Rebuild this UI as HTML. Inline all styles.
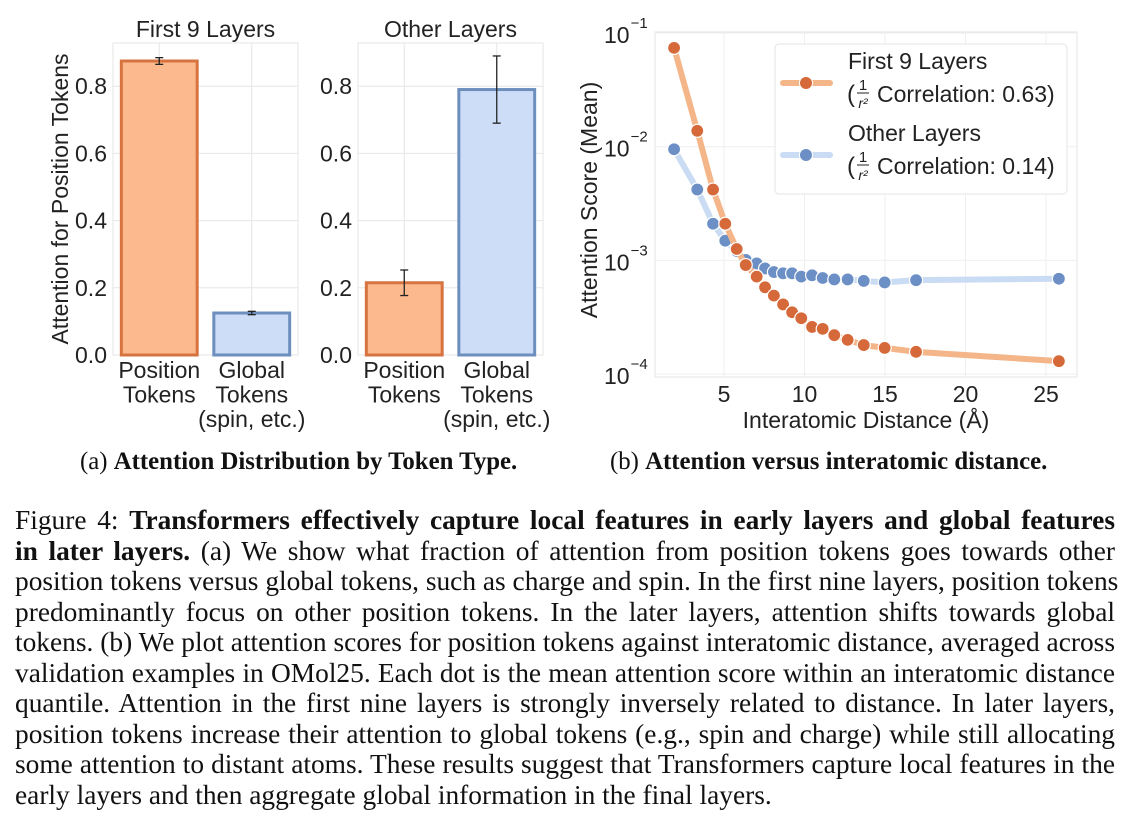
<!DOCTYPE html>
<html><head><meta charset="utf-8"><style>
body{margin:0;background:#fff;width:1133px;height:817px;overflow:hidden;position:relative;font-family:"Liberation Serif",serif}
svg{position:absolute;left:0;top:0}
.cap{position:absolute;left:15px;width:1100px;font-size:27.4px;line-height:30px;text-align:justify;text-align-last:justify;white-space:nowrap;color:#111}
.cap.last{text-align-last:left}
.sub{position:absolute;font-size:24.8px;color:#111;white-space:nowrap}
</style></head><body>
<svg id="chart" width="1133" height="445" font-family="Liberation Sans, sans-serif"></svg>
<div class="sub" style="left:80px;top:448px">(a) <b>Attention Distribution by Token Type.</b></div>
<div class="sub" style="left:610px;top:448px">(b) <b>Attention versus interatomic distance.</b></div>
<div>
<div class="cap" style="top:505px">Figure 4: <b>Transformers effectively capture local features in early layers and global features</b></div>
<div class="cap" style="top:535.5px"><b>in later layers.</b> (a) We show what fraction of attention from position tokens goes towards other</div>
<div class="cap" style="top:566px">position tokens versus global tokens, such as charge and spin. In the first nine layers, position tokens</div>
<div class="cap" style="top:596.5px">predominantly focus on other position tokens. In the later layers, attention shifts towards global</div>
<div class="cap" style="top:627px">tokens. (b) We plot attention scores for position tokens against interatomic distance, averaged across</div>
<div class="cap" style="top:657.5px">validation examples in OMol25. Each dot is the mean attention score within an interatomic distance</div>
<div class="cap" style="top:688px">quantile. Attention in the first nine layers is strongly inversely related to distance. In later layers,</div>
<div class="cap" style="top:718.5px">position tokens increase their attention to global tokens (e.g., spin and charge) while still allocating</div>
<div class="cap" style="top:749px">some attention to distant atoms. These results suggest that Transformers capture local features in the</div>
<div class="cap last" style="top:779.5px">early layers and then aggregate global information in the final layers.</div>
</div>
<script>
const barCategories=["Position","Global"];
const firstVals=[0.875,0.125];
const firstErr=[0.01,0.005];
const otherVals=[0.215,0.79];
const otherErr=[0.038,0.1];
const barTicks=[0,0.2,0.4,0.6,0.8];
const distX=[1.9,3.34,4.32,5.08,5.79,6.35,7.03,7.55,8.1,8.67,9.23,9.8,10.47,11.13,11.85,12.68,13.68,14.98,16.93,25.8];
const firstScores=[0.074,0.0138,0.0042,0.0021,0.00126,0.00091,0.00072,0.00058,0.00049,0.00041,0.00035,0.00031,0.00026,0.00025,0.00022,0.0002,0.00018,0.00017,0.000157,0.00013];
const otherScores=[0.0095,0.0042,0.0021,0.00149,0.00121,0.00101,0.00094,0.00085,0.00079,0.00077,0.00077,0.00072,0.00074,0.0007,0.00068,0.00068,0.00066,0.00064,0.00067,0.00069];
const xTicks=[5,10,15,20,25];
const yExps=[-1,-2,-3,-4];

const svg=document.getElementById('chart');
const NS='http://www.w3.org/2000/svg';
function mk(tag,attrs,parent,text){const e=document.createElementNS(NS,tag);for(const k in attrs)e.setAttribute(k,attrs[k]);if(text!==undefined)e.textContent=text;(parent||svg).appendChild(e);return e;}

const FS=23;
// ---- bar panels ----
const by=v=>355-v*336;
function panel(x0,x1,title,vals,errs,name){
  const g=mk('g',{});
  
  
  mk('rect',{x:x0,y:43,width:x1-x0,height:312,fill:'#fff',stroke:'#e4e4e4','stroke-width':1},g);
  barTicks.forEach(t=>{
    mk('line',{x1:x0,x2:x1,y1:by(t),y2:by(t),stroke:'#e6e6e6'},g);
    const tl=mk('text',{x:x0-6,y:by(t)+8,'text-anchor':'end','font-size':FS,fill:'#222'},g,t.toFixed(1));
    
    
  });
  const w=(x1-x0)/2;
  const cols=[{f:'#fdb98e',s:'#d6733f'},{f:'#cddcf7',s:'#6c8fbd'}];
  vals.forEach((v,i)=>{
    const cx=x0+w*(i+0.5);
    mk('line',{x1:cx,x2:cx,y1:43,y2:355,stroke:'#e6e6e6'},g);
    const bw=w*0.82;
    const r=mk('rect',{x:cx-bw/2,y:by(v),width:bw,height:by(0)-by(v),fill:cols[i].f,stroke:cols[i].s,'stroke-width':3},g);
    
    
    const e=errs[i];
    mk('line',{x1:cx,x2:cx,y1:by(v+e),y2:by(v-e),stroke:'#222','stroke-width':1.3},g);
    mk('line',{x1:cx-4,x2:cx+4,y1:by(v+e),y2:by(v+e),stroke:'#222','stroke-width':1.3},g);
    mk('line',{x1:cx-4,x2:cx+4,y1:by(v-e),y2:by(v-e),stroke:'#222','stroke-width':1.3},g);
    const lines=i==0?['Position','Tokens']:['Global','Tokens','(spin, etc.)'];
    lines.forEach((l,j)=>{const t=mk('text',{x:cx,y:378+j*24.5,'text-anchor':'middle','font-size':FS,fill:'#222'},g,l);
      });
  });
  const tt=mk('text',{x:(x0+x1)/2,y:37,'text-anchor':'middle','font-size':FS,fill:'#222'},g,title);
  
  
}
panel(113,298,'First 9 Layers',firstVals,firstErr,'bar-panel-first-9-layers');
panel(358,543,'Other Layers',otherVals,otherErr,'bar-panel-other-layers');
const yl=mk('text',{x:0,y:0,transform:'translate(68,199) rotate(-90)','text-anchor':'middle','font-size':FS,fill:'#222'},svg,'Attention for Position Tokens');



// ---- line chart ----
const X0=655,X1=1077,Y0=32,Y1=377;
const sx=v=>643.5+v*16.1;
const sy=v=>33+(-1-Math.log10(v))*113.7;
const lg=mk('g',{});


mk('rect',{x:X0,y:Y0,width:X1-X0,height:Y1-Y0,fill:'#fff',stroke:'#e4e4e4'},lg);
xTicks.forEach(t=>{
  mk('line',{x1:sx(t),x2:sx(t),y1:Y0,y2:Y1,stroke:'#efefef'},lg);
  const tl=mk('text',{x:sx(t),y:402,'text-anchor':'middle','font-size':FS,fill:'#222'},lg,String(t));
  
  
});
yExps.forEach(e=>{
  const y=sy(Math.pow(10,e));
  mk('line',{x1:X0,x2:X1,y1:y,y2:y,stroke:'#efefef'},lg);
  const t=mk('text',{x:604,y:y+10,'font-size':23,fill:'#222'},lg,'10');
  
  
  mk('tspan',{dx:1,dy:-15,'font-size':15},t,'\u2212'+(-e));
});
function series(xs,ys,lc,dc,name){
  const g=mk('g',{},lg);
  
  
  mk('polyline',{points:xs.map((x,i)=>sx(x)+','+sy(ys[i])).join(' '),fill:'none',stroke:lc,'stroke-width':6,'stroke-linejoin':'round','stroke-linecap':'round'},g);
  xs.forEach((x,i)=>{const c=mk('circle',{cx:sx(x),cy:sy(ys[i]),r:6.5,fill:dc,stroke:'#fff','stroke-width':1.2},g);
    });
}
series(distX,otherScores,'#cadcf3','#6c8fc6','series-other-layers');
series(distX,firstScores,'#f4b589','#d6693a','series-first-9-layers');
const xl=mk('text',{x:866,y:428,'text-anchor':'middle','font-size':FS,fill:'#222'},lg,'Interatomic Distance (\u00c5)');


const yl2=mk('text',{x:0,y:0,transform:'translate(597,200) rotate(-90)','text-anchor':'middle','font-size':FS,fill:'#222'},lg,'Attention Score (Mean)');


// legend
const leg=mk('g',{},lg);


mk('rect',{x:775,y:44,width:292,height:150,rx:4,fill:'#fff','fill-opacity':0.9,stroke:'#e4e4e4'},leg);
[['First 9 Layers','0.63','#f4b589','#d6693a',62],['Other Layers','0.14','#cadcf3','#6c8fc6',134]].forEach(d=>{
  const e=mk('g',{},leg);
  
  
  const yy=d[4];
  mk('line',{x1:783,x2:830,y1:yy+21,y2:yy+21,stroke:d[2],'stroke-width':6,'stroke-linecap':'round'},e);
  mk('circle',{cx:806,cy:yy+21,r:6.5,fill:d[3],stroke:'#fff'},e);
  mk('text',{x:848,y:yy+7,'font-size':FS,fill:'#222'},e,d[0]);
  mk('text',{x:847,y:yy+40,'font-size':24,fill:'#222'},e,'(');
  mk('text',{x:863,y:yy+28,'font-size':15,'text-anchor':'middle',fill:'#222'},e,'1');
  mk('line',{x1:857,x2:869,y1:yy+31,y2:yy+31,stroke:'#222','stroke-width':1},e);
  mk('text',{x:863,y:yy+46,'font-size':14,'text-anchor':'middle','font-style':'italic',fill:'#222'},e,'r\u00b2');
  mk('text',{x:877,y:yy+40,'font-size':FS,fill:'#222'},e,'Correlation: '+d[1]+')');
});
</script>
</body></html>
